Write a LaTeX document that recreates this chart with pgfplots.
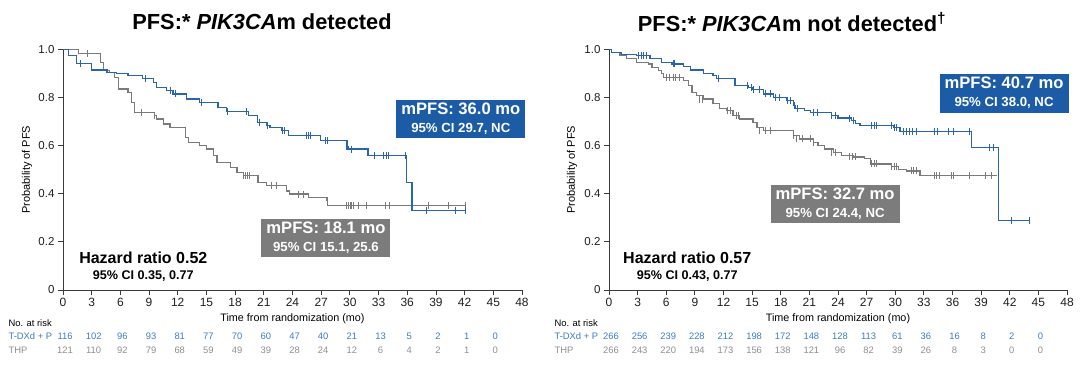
\documentclass[border=0pt]{standalone}
\usepackage{pgfplots}
\pgfplotsset{compat=1.18}
\usepackage{fontspec}
\setmainfont{Liberation Sans}
\definecolor{kmblue}{HTML}{2B64AE}
\definecolor{kmgray}{HTML}{7A7A7A}
\definecolor{boxblue}{HTML}{1C5BA6}
\definecolor{boxgray}{HTML}{7C7C7C}
\definecolor{riskblue}{HTML}{3B7CC4}
\definecolor{riskgray}{HTML}{8E8E8E}
\definecolor{axisc}{HTML}{3A3A3A}
\tikzset{mbox/.style={text=white, align=center, minimum width=129pt, minimum height=38pt, inner sep=1pt, font=\bfseries\fontsize{16.6}{18}\selectfont}}
\pgfplotsset{kmaxis/.style={
  scale only axis, height=240.5pt, anchor=south west,
  xmin=0,xmax=48,ymin=0,ymax=1,
  axis lines=left, axis line style={-, axisc, line width=0.8pt},
  xtick={0,3,6,9,12,15,18,21,24,27,30,33,36,39,42,45,48},
  ytick={0,0.2,0.4,0.6,0.8,1},
  yticklabels={0,0.2,0.4,0.6,0.8,1.0},
  tick align=outside, major tick length=5pt, tick style={axisc, line width=0.8pt},
  xticklabel style={font=\fontsize{12}{14}\selectfont, text=black!88},
  yticklabel style={font=\fontsize{11.5}{13}\selectfont, text=black!88},
  /pgf/number format/assume math mode=true,
  clip=false,
  every axis y label/.style={rotate=90, anchor=center, font=\fontsize{11}{13}\selectfont},
  every axis x label/.style={at={(axis description cs:0.5,0)}, yshift=-29pt, anchor=center, font=\fontsize{10.8}{13}\selectfont},
  ylabel={Probability of PFS}, xlabel={Time from randomization (mo)},
  km/.style={const plot mark left, line width=1.2pt, no marks},
  cens/.style={only marks, mark=|, mark size=3.5pt, mark options={line width=0.7pt}},
}}
\newcommand{\mtxt}[2]{#1\\[0pt]{\bfseries\fontsize{13.2}{14}\selectfont #2}}
\begin{document}
\begin{tikzpicture}
\useasboundingbox (0,0) rectangle (1080pt,366pt);
% ---------------- left panel
\begin{axis}[kmaxis, at={(63pt,76pt)}, width=459pt, every axis y label/.append style={at={(axis description cs:-0.0784,0.5)}}]
\addplot[km, kmgray] coordinates {
(0,1.0) (1.6,0.982) (3.9,0.947) (4.2,0.912) (4.9,0.906) (5.4,0.885) (5.8,0.836) (6.8,0.822)
(7.2,0.780) (7.5,0.739) (9.6,0.725) (9.8,0.711) (10.5,0.690) (11.2,0.674) (12.8,0.635)
(13.1,0.614) (14.3,0.600) (15.0,0.586) (15.7,0.558) (16.1,0.530) (17.5,0.510) (18.2,0.489)
(18.9,0.475) (20.4,0.447) (21.3,0.433) (23.4,0.412) (23.7,0.399) (25.7,0.385) (27.6,0.371)
(27.7,0.350) (42.05,0.350)};
\addplot[cens, kmgray] coordinates {
(2.5,0.982) (8.2,0.739) (9.6,0.725) (18.9,0.475) (19.1,0.475) (19.3,0.475) (19.5,0.475)
(21.8,0.433) (22.3,0.433) (24.6,0.399) (25.1,0.399) (29.6,0.35) (29.8,0.35) (30.0,0.35)
(30.2,0.35) (30.4,0.35) (30.9,0.35) (31.7,0.35) (33.7,0.35) (34.1,0.35) (38.2,0.35) (40.3,0.35) (42.05,0.35)};
\addplot[km, kmblue] coordinates {
(0,1.0) (0.56,0.975) (1.43,0.943) (3.0,0.915) (4.6,0.906) (5.6,0.899) (6.8,0.892) (8.3,0.878)
(9.45,0.864) (9.8,0.843) (10.8,0.829) (11.5,0.815) (12.9,0.794) (14.3,0.780) (16.2,0.760)
(17.1,0.743) (19.4,0.725) (20.3,0.697) (21.3,0.683) (21.65,0.674) (22.9,0.663) (23.6,0.642)
(26.9,0.621) (29.7,0.596) (29.8,0.586) (31.9,0.558) (35.95,0.447) (36.5,0.329) (42.05,0.329)};
\addplot[cens, kmblue] coordinates {
(1.8,0.943) (8.6,0.878) (11.2,0.829) (11.7,0.815) (14.5,0.780) (17.2,0.743) (19.2,0.743)
(20.5,0.697) (21.4,0.683) (22.9,0.663) (23.1,0.663) (25.5,0.642) (25.7,0.642) (25.9,0.642)
(27.4,0.621) (27.6,0.621) (29.6,0.596) (30.2,0.586) (32.6,0.558) (33.5,0.558) (33.8,0.558)
(34.0,0.558) (35.8,0.558) (38.0,0.329) (41.0,0.329) (42.05,0.329)};
\node[mbox, fill=boxblue] at (41.6,0.711) {\mtxt{mPFS: 36.0 mo}{95\% CI 29.7, NC}};
\node[mbox, fill=boxgray] at (27.5,0.216) {\mtxt{mPFS: 18.1 mo}{95\% CI 15.1, 25.6}};
\node[font=\bfseries\fontsize{16}{18}\selectfont] at (8.4,0.133) {Hazard ratio 0.52};
\node[font=\bfseries\fontsize{12.6}{14}\selectfont] at (8.4,0.058) {95\% CI 0.35, 0.77};
\end{axis}
% ---------------- right panel
\begin{axis}[kmaxis, at={(609pt,76pt)}, width=458pt, every axis y label/.append style={at={(axis description cs:-0.0808,0.5)}}]
\addplot[km, kmgray] coordinates {
(0,1.0) (0.28,0.989) (1.15,0.975) (1.85,0.961) (2.9,0.947) (4.1,0.940) (4.5,0.926) (5.2,0.912)
(5.5,0.899) (5.7,0.885) (7.8,0.871) (8.3,0.850) (8.7,0.822) (9.2,0.808) (9.9,0.794) (10.9,0.774)
(11.6,0.753) (12.3,0.746) (13.0,0.725) (13.7,0.711) (15.1,0.697) (15.5,0.676) (16.2,0.663)
(19.3,0.642) (20.0,0.628) (21.4,0.614) (21.9,0.600) (22.6,0.586) (23.5,0.573) (24.4,0.558)
(25.6,0.553) (26.8,0.546) (27.4,0.524) (29.6,0.512) (30.3,0.502) (31.2,0.495) (32.6,0.475) (40.7,0.475)};
\addplot[cens, kmgray] coordinates {
(6.0,0.885) (6.3,0.885) (6.7,0.885) (7.0,0.885) (7.4,0.885) (9.5,0.794) (9.8,0.794)
(12.4,0.746) (12.7,0.746) (13.3,0.725) (13.6,0.725) (15.8,0.663) (16.4,0.663) (16.9,0.663)
(19.3,0.642) (19.6,0.628) (20.3,0.628) (21.1,0.628) (21.4,0.614) (23.3,0.573) (23.7,0.573)
(25.2,0.553) (25.5,0.553) (25.8,0.553) (27.5,0.524) (27.8,0.524) (28.0,0.524) (29.6,0.512)
(29.9,0.512) (30.1,0.512) (31.7,0.495) (31.9,0.495) (32.2,0.495) (34.1,0.475) (34.3,0.475)
(34.6,0.475) (35.9,0.475) (36.1,0.475) (37.8,0.475) (39.4,0.475) (40.1,0.475)};
\addplot[km, kmblue] coordinates {
(0,1.0) (0.28,0.989) (1.33,0.979) (2.9,0.975) (4.3,0.961) (5.5,0.947) (6.6,0.940) (7.8,0.929)
(8.5,0.915) (9.9,0.901) (10.9,0.892) (11.3,0.878) (13.2,0.850) (14.6,0.843) (15.1,0.832)
(16.2,0.815) (17.2,0.801) (18.6,0.788) (19.3,0.767) (19.5,0.753) (20.5,0.746) (21.1,0.739)
(23.3,0.725) (24.0,0.715) (25.4,0.704) (25.8,0.693) (26.3,0.683) (29.8,0.674) (30.5,0.660)
(38.0,0.593) (40.8,0.2875) (44.1,0.2875)};
\addplot[cens, kmblue] coordinates {
(3.1,0.975) (3.4,0.975) (3.6,0.975) (3.9,0.975) (6.7,0.940) (6.9,0.940) (11.5,0.878)
(14.5,0.850) (14.9,0.843) (15.1,0.832) (15.8,0.832) (16.4,0.815) (16.9,0.815) (17.4,0.801)
(17.9,0.801) (18.7,0.788) (19.0,0.788) (19.4,0.767) (19.7,0.753) (21.4,0.739) (21.8,0.739)
(23.3,0.725) (23.7,0.725) (25.2,0.715) (25.6,0.704) (27.5,0.683) (27.8,0.683) (28.0,0.683)
(29.6,0.683) (29.9,0.674) (30.1,0.674) (30.8,0.660) (31.2,0.660) (31.5,0.660) (31.8,0.660)
(32.2,0.660) (34.1,0.660) (34.4,0.660) (35.6,0.660) (36.1,0.660) (37.8,0.660) (39.9,0.593)
(40.3,0.593) (42.2,0.2875) (44.1,0.2875)};
\node[mbox, fill=boxblue, minimum height=39pt] at (41.4,0.819) {\mtxt{mPFS: 40.7 mo}{95\% CI 38.0, NC}};
\node[mbox, fill=boxgray] at (23.7,0.358) {\mtxt{mPFS: 32.7 mo}{95\% CI 24.4, NC}};
\node[font=\bfseries\fontsize{16}{18}\selectfont] at (8.2,0.133) {Hazard ratio 0.57};
\node[font=\bfseries\fontsize{12.6}{14}\selectfont] at (8.2,0.058) {95\% CI 0.43, 0.77};
\end{axis}
% ---------------- titles
\node[font=\bfseries\fontsize{21.8}{25}\selectfont] at (262pt,344pt) {PFS:* \textit{PIK3CA}m detected};
\node[font=\bfseries\fontsize{21.8}{25}\selectfont] at (792pt,344pt) {PFS:* \textit{PIK3CA}m not detected\textsuperscript{†}};
% ---------------- risk tables
\begin{scope}[every node/.style={font=\fontsize{9.4}{11}\selectfont}]
\node[anchor=west] at (5pt,43pt) {No. at risk};
\node[anchor=west, text=riskblue] at (5pt,30pt) {T-DXd + P};
\node[anchor=west, text=riskgray] at (5pt,15.3pt) {THP};
\foreach \n [count=\i from 0] in {116,102,96,93,81,77,70,60,47,40,21,13,5,2,1,0}
  \node[text=riskblue] at ({(65+\i*28.6875)*1pt},30pt) {\n};
\foreach \n [count=\i from 0] in {121,110,92,79,68,59,49,39,28,24,12,6,4,2,1,0}
  \node[text=riskgray] at ({(65+\i*28.6875)*1pt},15.3pt) {\n};
\node[anchor=west] at (551pt,43pt) {No. at risk};
\node[anchor=west, text=riskblue] at (551pt,30pt) {T-DXd + P};
\node[anchor=west, text=riskgray] at (551pt,15.3pt) {THP};
\foreach \n [count=\i from 0] in {266,256,239,228,212,198,172,148,128,113,61,36,16,8,2,0}
  \node[text=riskblue] at ({(611+\i*28.625)*1pt},30pt) {\n};
\foreach \n [count=\i from 0] in {266,243,220,194,173,156,138,121,96,82,39,26,8,3,0,0}
  \node[text=riskgray] at ({(611+\i*28.625)*1pt},15.3pt) {\n};
\end{scope}
\end{tikzpicture}
\end{document}
